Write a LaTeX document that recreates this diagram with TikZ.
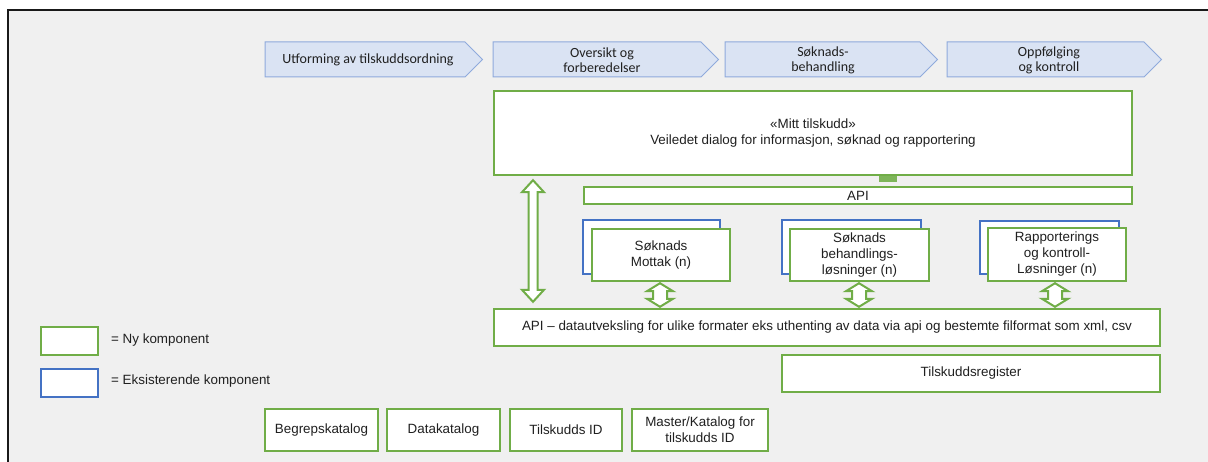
\documentclass[tikz,border=0pt]{standalone}
\usepackage{fontspec}
\setmainfont{Liberation Sans}
\newfontfamily\calfont{Carlito}
\usetikzlibrary{calc}
\definecolor{grn}{HTML}{70AD47}
\definecolor{blu}{HTML}{4472C4}
\definecolor{chfill}{HTML}{DAE3F3}
\definecolor{chdraw}{HTML}{8FAADC}
\definecolor{bg}{HTML}{F0F0F0}
\definecolor{txt}{HTML}{202020}
\newcommand\bx[7]{\node[#6, minimum width={(#4-#2)*1pt}, minimum height={(#5-#3)*1pt}] (#1) at ({(#2+#4)/2},{(#3+#5)/2}) {#7};}
\newcommand\chevron[3]{\path[chev] (#1,42) -- (#2,42) -- ({#2+17.5},59.5) -- (#2,77) -- (#1,77) -- cycle;}
\newcommand\dblarr[6]{%
 \draw[blockarr] let \p1=(#1), \p2=(#2) in
 ({#3pt},{\y1}) -- ({#3pt+#5pt},{\y1-#6pt}) -- ({#3pt+#4pt},{\y1-#6pt}) -- ({#3pt+#4pt},{\y2+#6pt}) -- ({#3pt+#5pt},{\y2+#6pt}) -- ({#3pt},{\y2}) -- ({#3pt-#5pt},{\y2+#6pt}) -- ({#3pt-#4pt},{\y2+#6pt}) -- ({#3pt-#4pt},{\y1-#6pt}) -- ({#3pt-#5pt},{\y1-#6pt}) -- cycle;}
\begin{document}
\begin{tikzpicture}[x=1pt,y=-1pt,
  txtfont/.style={font=\fontsize{13.4}{16}\selectfont, text=txt},
  gbox/.style={draw=grn, line width=2.4pt, fill=white, inner sep=0pt, align=center, txtfont},
  bbox/.style={draw=blu, line width=2.4pt, fill=white, inner sep=0pt},
  chev/.style={draw=chdraw, fill=chfill, line width=1pt, line join=miter},
  chtext/.style={font=\calfont\fontsize{14}{15}\selectfont, text=txt, align=center, inner sep=0pt},
  blockarr/.style={draw=grn, line width=2pt, fill=white, line join=miter},
  legtext/.style={txtfont, anchor=west, inner sep=0pt}]
\useasboundingbox (0,0) rectangle (1208,462);
\clip (0,0) rectangle (1208,462);
\fill[white] (0,0) rectangle (1208,462);
\draw[fill=bg, draw=black!90, line width=1.5pt] (8,10) rectangle (1240,490);

% phases
\chevron{265}{465}{c1}
\chevron{493}{701}{c2}
\chevron{725}{920}{c3}
\chevron{947}{1144}{c4}
\node[chtext] (t1) at (368,60) {Utforming av tilskuddsordning};
\node[chtext] (t2) at (602,60) {Oversikt og\\forberedelser};
\node[chtext] (t3) at (823,60) {Søknads-\\behandling};
\node[chtext] (t4) at (1049,60) {Oppfølging\\og kontroll};

% main components
\bx{mitt}{494}{91}{1132}{175}{gbox}{«Mitt tilskudd»\\Veiledet dialog for informasjon, søknad og rapportering}
\bx{api}{584}{187}{1132}{204}{gbox}{API}
\fill[grn!90] (879,176) rectangle (897,182);

\bx{b1}{583}{220}{720}{274}{bbox}{}
\bx{g1}{592}{229}{730}{281}{gbox}{Søknads\\Mottak (n)}
\bx{b2}{782}{220}{921}{274}{bbox}{}
\bx{g2}{790}{229}{929}{281}{gbox}{Søknads\\behandlings-\\løsninger (n)}
\bx{b3}{980}{221}{1119}{274}{bbox}{}
\bx{g3}{988}{228}{1126}{281}{gbox}{Rapporterings\\og kontroll-\\Løsninger (n)}

\bx{apibig}{494}{309}{1160}{346}{gbox}{API -- datautveksling for ulike formater eks uthenting av data via api og bestemte filformat som xml, csv}
\bx{reg}{782}{355}{1160}{392}{gbox}{Tilskuddsregister}

% arrows
\dblarr{[yshift=-4pt]mitt.south}{[yshift=6pt]apibig.north}{533}{4.5}{11}{12}
\dblarr{[yshift=-1pt]g1.south}{[yshift=1pt]apibig.north}{660}{7}{13}{8}
\dblarr{[yshift=-1pt]g2.south}{[yshift=1pt]apibig.north}{859}{7}{13}{8}
\dblarr{[yshift=-1pt]g3.south}{[yshift=1pt]apibig.north}{1055}{7}{13}{8}

% legend
\bx{lg}{41}{327}{98}{355}{gbox}{}
\bx{lb}{41}{369}{98}{397}{bbox}{}
\node[legtext] (lgt) at (111,340) {= Ny komponent};
\node[legtext] (lbt) at (111,381) {= Eksisterende komponent};

% catalogues
\bx{k1}{265}{409}{378}{451}{gbox}{Begrepskatalog}
\bx{k2}{387}{409}{500}{451}{gbox}{Datakatalog}
\bx{k3}{510}{409}{622}{451}{gbox}{Tilskudds ID}
\bx{k4}{632}{409}{768}{451}{gbox}{Master/Katalog for\\tilskudds ID}
\end{tikzpicture}
\end{document}
